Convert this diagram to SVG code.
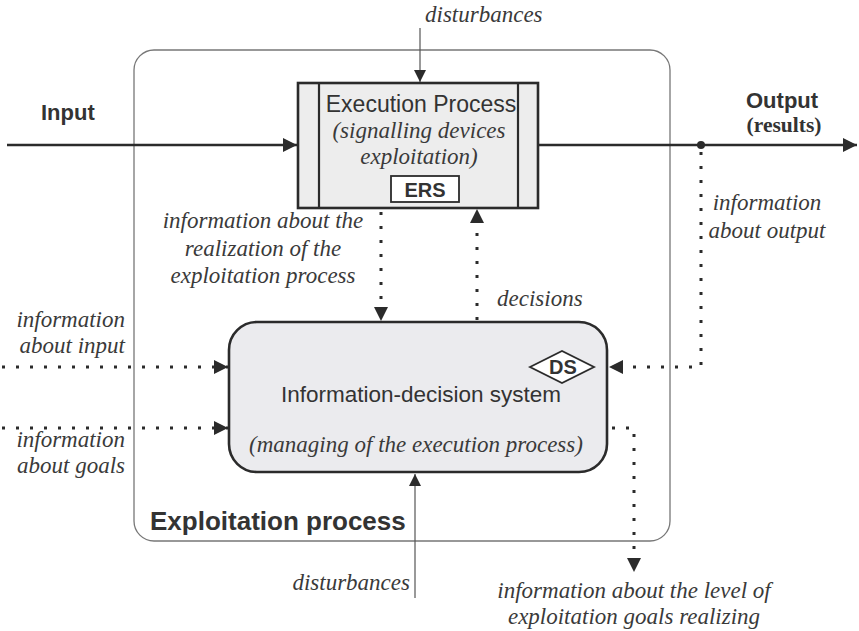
<svg xmlns="http://www.w3.org/2000/svg" width="859" height="631" viewBox="0 0 859 631">
<defs>
<style>
.sans{font-family:"Liberation Sans",Arial,sans-serif;fill:#333}
.bold{font-weight:bold}
.it{font-family:"Liberation Serif","Times New Roman",serif;font-style:italic;font-size:23px;fill:#3a3a3a}
.solid{stroke:#2b2b2b;stroke-width:2.6;fill:none}
.thin{stroke:#555;stroke-width:1.2;fill:none}
.dot{stroke:#2b2b2b;stroke-width:3;fill:none;stroke-dasharray:3 11}
</style>
<marker id="ah" viewBox="0 0 10 10" refX="10" refY="5" markerWidth="14" markerHeight="14" markerUnits="userSpaceOnUse" orient="auto">
<path d="M0,0 L10,5 L0,10 z" fill="#2b2b2b"/>
</marker>
<marker id="ahs" viewBox="0 0 10 10" refX="10" refY="5" markerWidth="12" markerHeight="12" markerUnits="userSpaceOnUse" orient="auto">
<path d="M0,0 L10,5 L0,10 z" fill="#2b2b2b"/>
</marker>
</defs>
<rect width="859" height="631" fill="#fff"/>

<g id="exploitation-process">
<rect x="134" y="50" width="536" height="491" rx="20" fill="none" stroke="#777" stroke-width="1.3"/>
<text x="150" y="530" class="sans bold" font-size="26">Exploitation process</text>
</g>

<g id="execution-process">
<rect x="298" y="83" width="240" height="125" fill="#ededed" stroke="#2b2b2b" stroke-width="2.6"/>
<line x1="319" y1="83" x2="319" y2="208" stroke="#2b2b2b" stroke-width="2.2"/>
<line x1="518" y1="83" x2="518" y2="208" stroke="#2b2b2b" stroke-width="2.2"/>
<text x="421" y="112" class="sans" font-size="23" text-anchor="middle">Execution Process</text>
<text x="419" y="138" class="it" text-anchor="middle">(signalling devices</text>
<text x="419" y="164" class="it" text-anchor="middle">exploitation)</text>
<rect x="391" y="176" width="68" height="26" fill="#fff" stroke="#2b2b2b" stroke-width="1.8"/>
<text x="425" y="197" class="sans bold" font-size="20" text-anchor="middle">ERS</text>
</g>

<g id="information-decision-system">
<rect x="229" y="322" width="378" height="150" rx="28" fill="#ebebee" stroke="#2b2b2b" stroke-width="2.6"/>
<polygon points="530,367 562,351 594,367 562,383" fill="#fff" stroke="#2b2b2b" stroke-width="1.8"/>
<text x="563" y="374" class="sans bold" font-size="20" text-anchor="middle">DS</text>
<text x="421" y="402" class="sans" font-size="22.5" text-anchor="middle">Information-decision system</text>
<text x="416" y="452" class="it" text-anchor="middle">(managing of the execution process)</text>
</g>

<g id="connectors">
<line x1="7" y1="145" x2="297" y2="145" class="solid" marker-end="url(#ah)"/>
<line x1="538" y1="145" x2="857" y2="145" class="solid" marker-end="url(#ah)"/>
<circle cx="701" cy="145" r="4" fill="#2b2b2b"/>
<line x1="420" y1="28" x2="420" y2="82" class="thin" marker-end="url(#ahs)"/>
<line x1="415" y1="598" x2="415" y2="474" class="thin" marker-end="url(#ahs)"/>
<line x1="381" y1="212" x2="381" y2="321" class="dot" marker-end="url(#ah)"/>
<line x1="477" y1="320" x2="477" y2="209" class="dot" marker-end="url(#ah)"/>
<polyline points="701,152 701,367 609,367" class="dot" marker-end="url(#ah)"/>
<line x1="2" y1="367" x2="228" y2="367" class="dot" marker-end="url(#ah)"/>
<line x1="2" y1="428" x2="228" y2="428" class="dot" marker-end="url(#ah)"/>
<polyline points="612,428 634,428 634,572" class="dot" marker-end="url(#ah)"/>
</g>

<g id="labels">
<text x="425" y="22" class="it">disturbances</text>
<text x="41" y="120" class="sans bold" font-size="22">Input</text>
<text x="746" y="108" class="sans bold" font-size="22">Output</text>
<text x="784" y="132" font-family="Liberation Serif,'Times New Roman',serif" font-weight="bold" font-size="21.5" fill="#333" text-anchor="middle">(results)</text>
<text x="767" y="210" class="it" text-anchor="middle">information</text>
<text x="767" y="238" class="it" text-anchor="middle">about output</text>
<text x="263" y="228" class="it" text-anchor="middle">information about the</text>
<text x="263" y="256" class="it" text-anchor="middle">realization of the</text>
<text x="263" y="283" class="it" text-anchor="middle">exploitation process</text>
<text x="497" y="306" class="it">decisions</text>
<text x="125" y="327" class="it" text-anchor="end">information</text>
<text x="125" y="353" class="it" text-anchor="end">about input</text>
<text x="125" y="447" class="it" text-anchor="end">information</text>
<text x="125" y="473" class="it" text-anchor="end">about goals</text>
<text x="410" y="590" class="it" text-anchor="end">disturbances</text>
<text x="634" y="598" class="it" text-anchor="middle">information about the level of</text>
<text x="634" y="624" class="it" text-anchor="middle">exploitation goals realizing</text>
</g>
</svg>
